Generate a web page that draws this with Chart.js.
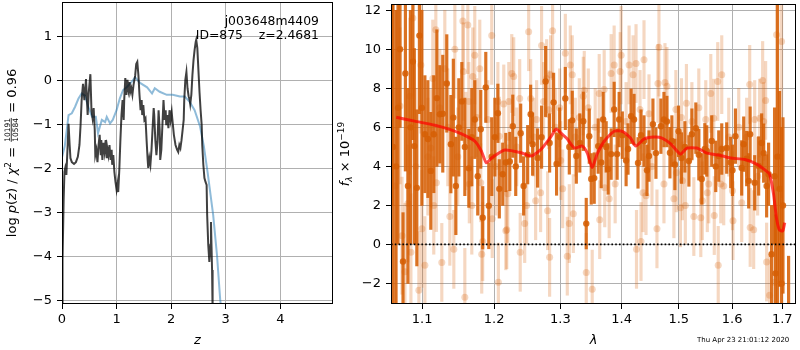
<!DOCTYPE html>
<html>
<head>
<meta charset="utf-8">
<script src="https://cdn.jsdelivr.net/npm/chart.js@4.4.1/dist/chart.umd.min.js"></script>
<style>
  html, body { margin: 0; padding: 0; background: #fff; }
  #wrap { position: relative; width: 800px; height: 350px; overflow: hidden; }
  canvas { position: absolute; top: 0; }
</style>
</head>
<body>
<div id="wrap">
  <canvas id="pz" width="337" height="350" style="left:0"></canvas>
  <canvas id="spec" width="463" height="350" style="left:337px"></canvas>
</div>
<script>
// ---- left panel: log p(z) ----
const zTicks = [0, 1, 2, 3, 4];
const pzTicks = [-5, -4, -3, -2, -1, 0, 1];

const zDark = [0,0.01,0.03,0.045,0.06,0.08,0.1,0.12,0.14,0.155,
  0.18,0.22,0.255,0.29,0.32,0.34,0.36,0.385,0.41,0.44,
  0.47,0.49,0.52,0.54,0.56,0.58,0.6,0.61,0.63,0.65,
  0.67,0.69,0.71,0.72,0.74,0.76,0.78,0.8,0.82,0.83,
  0.85,0.87,0.89,0.91,0.92,0.94,0.96,0.98,1.0,1.02,
  1.03,1.05,1.07,1.09,1.11,1.13,1.14,1.16,1.18,1.2,
  1.22,1.24,1.25,1.27,1.29,1.31,1.34,1.36,1.38,1.4,
  1.42,1.44,1.46,1.47,1.49,1.51,1.53,1.55,1.57,1.58,
  1.6,1.62,1.64,1.66,1.68,1.69,1.71,1.73,1.75,1.77,
  1.79,1.8,1.82,1.84,1.86,1.88,1.9,1.91,1.93,1.95,
  1.97,1.99,2.01,2.02,2.05,2.08,2.11,2.13,2.15,2.17,
  2.19,2.21,2.23,2.24,2.26,2.28,2.3,2.32,2.34,2.35,
  2.37,2.39,2.41,2.43,2.45,2.46,2.48,2.5,2.52,2.54,
  2.56,2.57,2.59,2.61,2.63,2.65,2.66,2.68,2.7,2.72,
  2.73,2.75,2.76];
const lnpDark = [-5.3,-4.08,-2.72,-2.08,-1.99,-2.15,-1.58,-0.99,-1.47,-1.77,
  -1.86,-1.9,-1.86,-1.74,-1.47,-1.02,-0.45,-0.08,-0.45,0.03,
  -0.79,-0.27,0.14,-0.68,-0.86,-0.63,-1.13,-1.7,-1.58,-1.86,
  -1.47,-1.24,-1.7,-1.36,-1.81,-1.42,-1.63,-1.36,-1.77,-1.54,
  -1.7,-1.47,-1.81,-1.58,-1.92,-1.7,-2.08,-2.31,-2.49,-2.33,
  -2.54,-2.04,-1.36,-0.79,-0.45,-0.9,-0.45,0.05,-0.33,0.01,
  -0.22,-0.04,-0.27,-0.18,-0.33,-0.11,0.1,0.37,0.42,0.12,
  -0.33,-0.68,-0.45,-0.79,-0.56,-0.9,-0.86,-1.36,-1.81,-1.99,
  -1.77,-1.92,-1.58,-1.09,-0.63,-0.79,-1.36,-1.7,-1.4,-0.68,
  -1.13,-1.81,-1.58,-1.02,-0.45,-0.9,-0.68,-1.02,-0.79,-1.09,
  -0.68,-0.9,-0.72,-0.86,-1.24,-1.47,-1.58,-1.63,-1.47,-1.54,
  -1.36,-1.13,-0.9,-0.45,0.01,0.19,-0.18,-0.36,-0.45,-0.54,
  -0.33,0.12,0.46,0.69,0.87,0.92,0.73,0.23,-0.27,-0.68,
  -1.02,-1.47,-1.92,-2.22,-2.31,-2.38,-3.06,-3.74,-4.13,-3.74,
  -3.22,-4.31,-5.3];

const zBlue = [0,0.05,0.1,0.12,0.18,0.24,0.3,0.36,0.42,0.48,
  0.55,0.62,0.66,0.73,0.79,0.82,0.88,0.93,1.0,1.06,
  1.12,1.19,1.28,1.34,1.43,1.56,1.65,1.7,1.79,1.92,
  2.03,2.16,2.25,2.34,2.43,2.53,2.6,2.67,2.77,2.84,
  2.9,2.93];
const lnpBlue = [-1.75,-1.5,-1.0,-0.79,-0.75,-0.6,-0.42,-0.3,-0.35,-0.6,
  -0.83,-0.83,-1.2,-0.9,-0.95,-0.83,-0.98,-0.9,-0.68,-0.41,
  -0.22,-0.15,-0.03,0.07,-0.06,-0.16,-0.3,-0.18,-0.26,-0.33,
  -0.33,-0.37,-0.37,-0.49,-0.68,-1.05,-1.5,-2.11,-3.06,-3.97,
  -5.0,-5.3];

// ---- right panel: spectrum ----
const lamTicks = [1.1, 1.2, 1.3, 1.4, 1.5, 1.6, 1.7];
const fluxTicks = [-2, 0, 2, 4, 6, 8, 10, 12];

// binned (dark) points
const waveDark = [1.0606,1.0619,1.0658,1.0683,1.0709,1.0748,1.0779,1.0812,1.0845,1.0877,
  1.0896,1.0929,1.0963,1.0996,1.1036,1.1076,1.1115,1.1155,1.1197,1.1237,
  1.1277,1.1332,1.1388,1.1422,1.1457,1.1498,1.1540,1.1582,1.1638,1.1680,
  1.1722,1.1764,1.1807,1.1835,1.1879,1.1922,1.1965,1.2010,1.2054,1.2075,
  1.2125,1.2170,1.2229,1.2273,1.2317,1.2391,1.2435,1.2496,1.2541,1.2571,
  1.2647,1.2708,1.2770,1.2832,1.2894,1.2940,1.2989,1.3078,1.3141,1.3188,
  1.3253,1.3309,1.3365,1.3413,1.3462,1.3494,1.3543,1.3608,1.3658,1.3690,
  1.3740,1.3773,1.3823,1.3873,1.3923,1.3957,1.4011,1.4075,1.4108,1.4160,
  1.4211,1.4279,1.4331,1.4383,1.4435,1.4470,1.4539,1.4592,1.4680,1.4734,
  1.4787,1.4841,1.4876,1.4930,1.4995,1.5049,1.5111,1.5185,1.5240,1.5313,
  1.5368,1.5423,1.5480,1.5517,1.5610,1.5686,1.5743,1.5800,1.5895,1.5972,
  1.6006,1.6064,1.6186,1.6225,1.6283,1.6323,1.6352,1.6442,1.6521,1.6581,
  1.6621,1.6681,1.6721,1.6781,1.6842,1.6862,1.6903,1.6944,1.6985,1.7014,
  1.7130];
const fluxDark = [14,5,4,7,10.0,-0.87,8.76,3,6,9.37,
  5.04,2.9,10.7,7,5.65,5.4,3.77,5.65,7.5,6.67,
  6.7,8.25,5.14,6.5,3.0,6.0,7.33,5.0,3.9,5.5,
  6.4,3.5,5.9,1.37,8.05,1.98,4.5,5.5,6.72,2.85,
  3.6,4.2,4.25,6.06,4.0,5.7,3.0,4.6,6.67,5.14,
  4.43,5.5,8.35,5.2,7.28,4.12,5.5,7.48,5.0,6.36,
  4.53,5.2,6.31,1.07,5.55,3.36,3.4,5.04,4.2,6.4,
  5.0,3.87,4.63,6.92,4.63,6.4,5.6,4.3,4.89,6.57,
  6.4,4.18,5.6,5.3,3.8,4.53,6.16,4.68,6.06,6.4,
  6.3,4.7,5.3,4.1,5.8,4.43,5.0,4.28,5.65,5.96,
  4.6,3.36,4.9,4.79,5.3,4.0,4.53,4.89,4.94,4.2,
  3.8,5.55,3.92,5.14,4.4,3.26,5.65,3.16,4.02,5.2,
  4.68,3.0,3.6,-0.5,3.5,-1.48,4.5,2.85,-2,2,
  -4];
const errDark = [12,9,8,7,4,2.5,5,5,6,4,
  5,4,4,5,3,3,3,3,3.5,2.5,
  3,2.5,2.5,3,2.5,2.5,2,2.5,2,2.5,
  2,2,2,1.6,1.8,2.2,2,2,1.5,1.5,
  1.6,1.5,1.5,1.6,1.5,1.5,1.5,1.5,1.5,1.6,
  1.5,1.6,1.8,1.5,1.5,1.6,1.5,1.6,1.4,1.5,
  1.4,1.5,1.5,1.3,1.4,1.3,1.3,1.4,1.3,1.4,
  1.3,1.3,1.3,1.4,1.3,1.4,1.2,1.3,1.3,1.4,
  1.3,1.3,1.3,1.3,1.3,1.3,1.3,1.3,1.4,1.4,
  1.3,1.3,1.3,1.3,1.3,1.3,1.3,1.3,1.3,1.3,
  1.3,1.3,1.3,1.3,1.3,1.3,1.3,1.3,1.3,1.3,
  1.3,1.4,1.4,1.4,1.4,1.4,1.4,1.4,1.5,1.5,
  1.5,1.6,1.6,2.5,3.5,3,8,5,8,4.5,
  3.4];

// unbinned (light) points
const waveLight = [1.0645,1.0709,1.0735,1.0773,1.0812,1.0838,1.0851,1.0877,1.0916,1.0956,
  1.0983,1.0996,1.1036,1.1076,1.1115,1.1142,1.1155,1.1183,1.1190,1.1237,
  1.1264,1.1305,1.1346,1.1374,1.1429,1.1443,1.1484,1.1554,1.1561,1.1582,
  1.1596,1.1624,1.1638,1.1645,1.1680,1.1694,1.1722,1.1750,1.1793,1.1807,
  1.1821,1.1835,1.1908,1.1965,1.1972,1.2024,1.2054,1.2061,1.2075,1.2140,
  1.2170,1.2184,1.2199,1.2214,1.2258,1.2287,1.2332,1.2376,1.2384,1.2451,
  1.2481,1.2511,1.2541,1.2587,1.2617,1.2632,1.2693,1.2708,1.2739,1.2786,
  1.2801,1.2817,1.2832,1.2847,1.2878,1.2925,1.2989,1.3005,1.3036,1.3078,
  1.3109,1.3141,1.3157,1.3188,1.3205,1.3237,1.3301,1.3365,1.3381,1.3413,
  1.3446,1.3510,1.3559,1.3625,1.3633,1.3707,1.3716,1.3790,1.3823,1.3873,
  1.3890,1.3974,1.3991,1.4075,1.4126,1.4194,1.4245,1.4253,1.4314,1.4331,
  1.4366,1.4383,1.4418,1.4470,1.4522,1.4610,1.4627,1.4645,1.4734,1.4752,
  1.4787,1.4912,1.4948,1.4957,1.5030,1.5049,1.5067,1.5120,1.5140,1.5240,
  1.5276,1.5368,1.5405,1.5433,1.5498,1.5527,1.5554,1.5592,1.5648,1.5658,
  1.5724,1.5733,1.5781,1.5800,1.5838,1.5934,1.6006,1.6016,1.6128,1.6186,
  1.6283,1.6343,1.6353,1.6422,1.6442,1.6501,1.6541,1.6601,1.6621,1.6661,
  1.6681,1.6741,1.6842,1.6883,1.6985];
const fluxLight = [3.0,7.1,0.45,-1.4,2.1,7.6,-0.4,11.6,4.0,-2.34,
  9.2,0.8,-1.07,4.5,4.94,8.5,2.0,11.0,3.16,7.0,
  -0.92,9.0,6.0,1.43,-0.25,10.0,4.5,11.45,8.86,-2.7,
  5.3,11.25,7.33,3.1,2.0,8.6,9.7,6.5,9.0,3.16,
  -0.5,0.15,6.4,10.7,1.32,4.0,7.33,-1.93,5.55,7.2,
  0.7,0.76,2.6,7.33,8.76,8.6,5.0,7.48,-0.4,1.07,
  2.0,10.9,7.48,5.5,2.24,6.4,2.65,10.2,7.33,8.5,
  1.73,6.9,-0.66,8.7,10.95,6.0,7.0,4.3,2.85,9.8,
  -0.6,1.07,9.2,8.7,1.58,5.5,6.5,7.6,7.9,-1.43,
  7.0,-2.29,6.0,7.74,1.27,7.94,2.9,2.34,8.76,9.2,
  3.1,8.86,9.7,6.3,9.2,8.7,9.27,-0.25,6.92,0.15,
  2.65,9.47,2.5,6.7,4.0,0.8,8.25,10.1,3.1,8.3,
  8.1,2.34,6.92,3.67,1.88,6.5,3.26,2.0,7.23,6.3,
  1.43,7.0,1.37,2.24,6.4,2.65,3.1,7.74,6.47,1.48,
  8.35,-1.07,3.1,8.7,3.0,5.5,2.75,1.22,6.0,2.14,
  5.5,8.2,0.87,0.76,6.4,3.5,6.47,8.4,6.3,7.38,
  -0.9,-2.6,-1.93,10.74,10.4];
const errLight = [9,4,3,3.5,3,4,3,4,4,3,
  3.5,3,2.5,3,3,3,2.5,3,2.5,3,
  2,3,3,2.5,2,2.5,2.5,2.5,2.5,2.5,
  2.5,2.5,2,2,2.5,2.5,2.5,2,2.5,2,
  2,2,2,2.5,2,2.5,2,2,2,2,
  2,2,2.5,2,2,2,2,2,2,2,
  2,2,2,2,2,2,2,2,2,2,
  2,2,2,2,2.5,2,2,2,2,2,
  2,2,2,2,2,2,2,2,2,2,
  2,2,2,2,2,2,2,2,2,2,
  2,2,2.5,2,2,2,2,2,2,2,
  2,2,2,2,2,2,2,2.5,2,2,
  2,2,2,2,2,2,2,2,2,2,
  2,2,2,2,2,2,2,2,2,2,
  2,2,2,2,2,2,2,2,2,2,
  2,2,2,2,2,2,2,2,2,2,
  2,2,2,8,8];

// model spectrum
const modelWave = [1.0660,1.0900,1.1170,1.1370,1.1536,1.1722,1.1815,1.1886,1.1970,1.2155,
  1.2401,1.2552,1.2704,1.2858,1.2935,1.3062,1.3110,1.3221,1.3350,1.3430,
  1.3510,1.3590,1.3710,1.3873,1.4010,1.4150,1.4240,1.4380,1.4560,1.4700,
  1.4860,1.5030,1.5150,1.5330,1.5520,1.5740,1.5970,1.6250,1.6480,1.6620,
  1.6740,1.6820,1.6880,1.6940,1.7010,1.7050];
const modelFlux = [6.52,6.32,6.11,5.90,5.67,5.30,4.79,4.19,4.45,4.84,
  4.70,4.53,4.89,5.55,5.90,5.55,5.40,4.94,5.04,4.68,
  3.94,4.63,5.30,5.80,5.80,5.45,5.04,5.40,5.50,5.45,
  5.14,4.63,4.94,4.94,4.68,4.58,4.43,4.35,4.12,3.87,
  3.60,2.60,1.37,0.75,0.70,1.12];

const zeroWave = [1.0593, 1.7284];
const zeroFlux = [0, 0];

// ---- helpers ----
const FONT = 'DejaVu Sans';
const DARK = 'rgba(214,96,6,0.88)';
const LIGHT = 'rgba(214,96,6,0.25)';
const minus = v => String(v).replace('-', '\u2212');
const pts = (xs, ys) => xs.map((x, i) => ({ x: x, y: ys[i] }));
const bars = (xs, ys, es) => xs.map((x, i) => ({ x: x, y: [ys[i] - es[i], ys[i] + es[i]] }));

function axis(type, ticks, min, max, size, fmt) {
  return {
    type: type, min: min, max: max, offset: false,
    afterBuildTicks: s => { s.ticks = ticks.map(v => ({ value: v })); },
    afterFit: s => {
      if (s.isHorizontal()) { s.height = size; s.paddingLeft = 0; s.paddingRight = 0; }
      else { s.width = size; s.paddingTop = 0; s.paddingBottom = 0; }
    },
    grid: { color: '#b0b0b0', lineWidth: 1, tickColor: '#000', tickLength: 5, offset: false },
    border: { display: false },
    ticks: { color: '#000', font: { family: FONT, size: 13 }, padding: size > 50 ? 5 : 3,
             autoSkip: false, maxRotation: 0, minRotation: 0, callback: fmt }
  };
}

// black box around the plot area
const frame = {
  id: 'frame',
  afterDraw(chart) {
    const { ctx, chartArea: a } = chart;
    ctx.save();
    ctx.strokeStyle = '#000';
    ctx.lineWidth = 1;
    ctx.strokeRect(Math.round(a.left) + 0.5, Math.round(a.top) + 0.5,
      Math.round(a.right - a.left) - 1, Math.round(a.bottom - a.top) - 1);
    ctx.restore();
  }
};

// rotated axis label built from pieces (text runs and one fraction)
function drawVertical(ctx, x, y, parts) {
  ctx.save();
  ctx.translate(x, y);
  ctx.rotate(-Math.PI / 2);
  ctx.fillStyle = '#000';
  ctx.textBaseline = 'alphabetic';
  const widths = parts.map(p => {
    ctx.font = p.font;
    if (p.num) return Math.max(ctx.measureText(p.num).width, ctx.measureText(p.den).width) + 2;
    return ctx.measureText(p.text).width;
  });
  let cx = -widths.reduce((s, w) => s + w, 0) / 2;
  parts.forEach((p, i) => {
    ctx.font = p.font;
    const w = widths[i];
    if (p.num) {
      ctx.textAlign = 'center';
      ctx.fillText(p.num, cx + w / 2, -6);
      ctx.fillText(p.den, cx + w / 2, 1.5);
      ctx.fillRect(cx + 1, -5.2, w - 2, 0.8);
    } else {
      ctx.textAlign = 'left';
      ctx.fillText(p.text, cx, p.dy || 0);
    }
    cx += w;
  });
  ctx.restore();
}

const N13 = '13px ' + FONT, I13 = 'italic 13px ' + FONT;

const pzText = {
  id: 'pzText',
  afterDraw(chart) {
    const { ctx, chartArea: a } = chart;
    ctx.save();
    ctx.fillStyle = '#000';
    ctx.font = '12.4px ' + FONT;
    ctx.textAlign = 'right';
    ctx.fillText('j003648m4409', 319, 25);
    ctx.fillText('ID=875    z=2.4681', 319, 39);
    ctx.textAlign = 'center';
    ctx.font = I13;
    ctx.fillText('z', (a.left + a.right) / 2, 344);
    ctx.restore();
    drawVertical(ctx, 16, (a.top + a.bottom) / 2, [
      { text: 'log ', font: N13 },
      { text: 'p', font: I13 },
      { text: '(', font: N13 },
      { text: 'z', font: I13 },
      { text: ') / ', font: N13 },
      { text: '\u03c7', font: I13 },
      { text: '2', font: '9px ' + FONT, dy: -5 },
      { text: ' = ', font: N13 },
      { num: '10191', den: '10584', font: '7.5px ' + FONT },
      { text: ' = 0.96', font: N13 }
    ]);
  }
};

const specText = {
  id: 'specText',
  afterDraw(chart) {
    const { ctx, chartArea: a } = chart;
    ctx.save();
    ctx.fillStyle = '#000';
    ctx.font = I13;
    ctx.textAlign = 'center';
    ctx.fillText('\u03bb', (a.left + a.right) / 2, 344);
    ctx.font = '7px ' + FONT;
    ctx.textAlign = 'left';
    ctx.fillText('Thu Apr 23 21:01:12 2020', 360, 342);
    ctx.restore();
    drawVertical(ctx, 12, (a.top + a.bottom) / 2, [
      { text: 'f', font: I13 },
      { text: '\u03bb', font: 'italic 9px ' + FONT, dy: 3 },
      { text: ' \u00d7 10', font: N13 },
      { text: '\u221219', font: '9px ' + FONT, dy: -5 }
    ]);
  }
};

new Chart(document.getElementById('pz'), {
  type: 'line',
  data: {
    datasets: [
      { data: pts(zDark, lnpDark), borderColor: 'rgba(0,0,0,0.75)', borderWidth: 2, order: 0 },
      { data: pts(zBlue, lnpBlue), borderColor: 'rgba(31,119,180,0.5)', borderWidth: 2, order: 1 }
    ]
  },
  options: {
    responsive: false, animation: false,
    elements: { point: { radius: 0 }, line: { tension: 0 } },
    layout: { padding: { top: 2, right: 4, left: 0, bottom: 0 } },
    plugins: { legend: { display: false }, tooltip: { enabled: false } },
    scales: {
      x: axis('linear', zTicks, 0, 4.966, 46, v => String(v)),
      y: axis('linear', pzTicks, -5.084, 1.78, 62, v => minus(v))
    }
  },
  plugins: [frame, pzText]
});

new Chart(document.getElementById('spec'), {
  type: 'scatter',
  data: {
    datasets: [
      { type: 'line', data: pts(zeroWave, zeroFlux), borderColor: '#000', borderWidth: 1.8,
        borderDash: [1.6, 2.2], pointRadius: 0, order: 0 },
      { type: 'line', data: pts(modelWave, modelFlux), borderColor: 'rgba(255,0,0,0.7)', borderWidth: 3,
        pointRadius: 0, tension: 0.2, order: 1 },
      { data: pts(waveDark, fluxDark), backgroundColor: DARK, pointRadius: 3.2, borderWidth: 0, order: 2 },
      { type: 'bar', data: bars(waveDark, fluxDark, errDark), backgroundColor: DARK,
        barThickness: 2.5, grouped: false, order: 3 },
      { data: pts(waveLight, fluxLight), backgroundColor: LIGHT, pointRadius: 3.5, borderWidth: 0, order: 4 },
      { type: 'bar', data: bars(waveLight, fluxLight, errLight), backgroundColor: LIGHT,
        barThickness: 2.5, grouped: false, order: 5 }
    ]
  },
  options: {
    responsive: false, animation: false,
    layout: { padding: { top: 2, right: 2, left: 0, bottom: 0 } },
    plugins: { legend: { display: false }, tooltip: { enabled: false } },
    scales: {
      x: axis('logarithmic', lamTicks, 1.0593, 1.7284, 46, v => Number(v).toFixed(1)),
      y: Object.assign(axis('linear', fluxTicks, -3.05, 12.32, 54, v => minus(v)), { stacked: false })
    }
  },
  plugins: [frame, specText]
});
</script>
</body>
</html>
